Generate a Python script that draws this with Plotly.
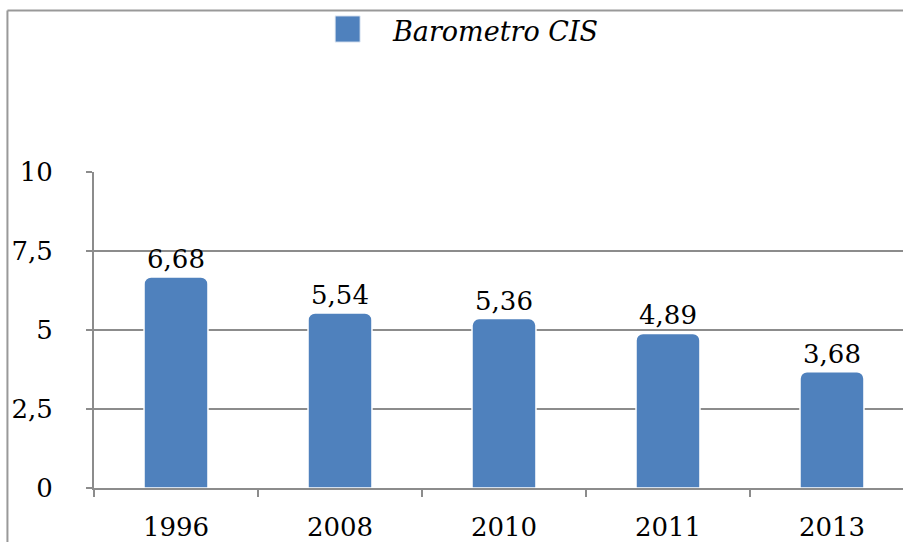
import plotly.graph_objects as go

# Barómetro CIS values by year
years = ["1996", "2008", "2010", "2011", "2013"]
values = [6.68, 5.54, 5.36, 4.89, 3.68]
value_labels = ["6,68", "5,54", "5,36", "4,89", "3,68"]

y_ticks = [0, 2.5, 5, 7.5, 10]
y_tick_labels = ["0", "2,5", "5", "7,5", "10"]

series_name = "Barometro CIS"
bar_color = "#4F81BD"
grid_color = "#8C8C8C"
serif = "Georgia, DejaVu Serif, serif"

fig = go.Figure()

fig.add_trace(go.Bar(
    x=years,
    y=values,
    width=0.39,
    name=series_name,
    marker=dict(color=bar_color, line=dict(color="white", width=1.5), cornerradius=7),
    text=value_labels,
    textposition="outside",
    textfont=dict(family=serif, size=26, color="black"),
    cliponaxis=False,
    showlegend=False,
))

# legend key: large square plus italic series name
fig.add_shape(type="rect", xref="paper", yref="paper",
              x0=0.298, x1=0.329, y0=1.411, y1=1.494,
              fillcolor=bar_color, line=dict(color="#E8EEF6", width=1))
fig.add_annotation(xref="paper", yref="paper", x=0.366, y=1.446,
                   xanchor="left", yanchor="middle", showarrow=False,
                   text=f"<i>{series_name}</i>",
                   font=dict(family=serif, size=27, color="black"))

# outer chart frame (top and left edges)
frame_line = dict(color="#999999", width=2)
fig.add_shape(type="line", xref="paper", yref="paper",
              x0=-0.107, x1=1.2, y0=1.511, y1=1.511, line=frame_line)
fig.add_shape(type="line", xref="paper", yref="paper",
              x0=-0.107, x1=-0.107, y0=1.511, y1=-0.3, line=frame_line)

fig.update_layout(
    width=903,
    height=542,
    margin=dict(l=94, r=0, t=172, b=54),
    paper_bgcolor="white",
    plot_bgcolor="white",
    font=dict(family=serif, size=26, color="black"),
    showlegend=False,
    xaxis=dict(
        type="category",
        range=[-0.5, 4.433],
        automargin=False,
        showgrid=False,
        showline=True,
        linecolor=grid_color,
        linewidth=2,
        ticks="outside",
        tickson="boundaries",
        ticklen=7,
        tickwidth=2,
        tickcolor=grid_color,
        ticklabelstandoff=15,
        tickfont=dict(family=serif, size=26),
    ),
    yaxis=dict(
        range=[0, 10],
        automargin=False,
        tickvals=y_ticks,
        ticktext=y_tick_labels,
        showgrid=True,
        gridcolor=grid_color,
        gridwidth=1.5,
        showline=True,
        linecolor=grid_color,
        linewidth=2,
        ticks="outside",
        ticklen=6,
        tickwidth=2,
        tickcolor=grid_color,
        ticklabelstandoff=28,
        tickfont=dict(family=serif, size=26),
        zeroline=False,
    ),
)

fig.write_html("out.html")
